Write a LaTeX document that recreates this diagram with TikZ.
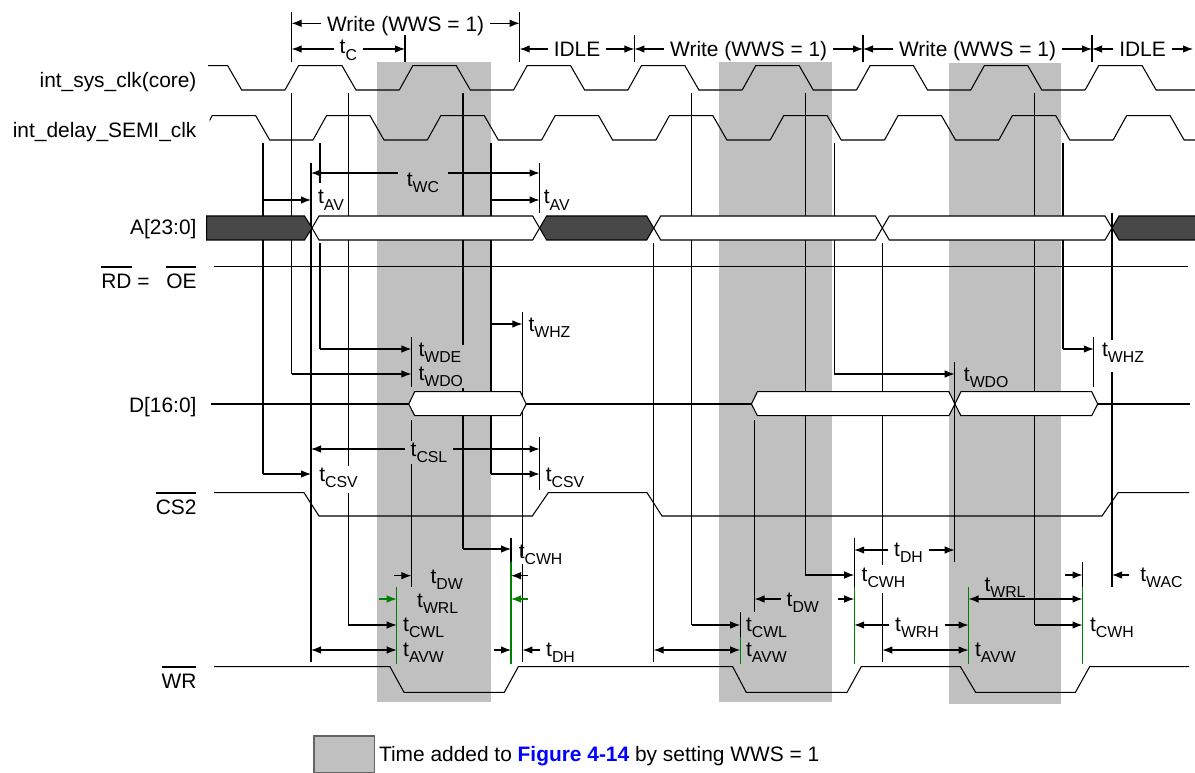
\documentclass[tikz,border=0pt]{standalone}
\usepackage{fontspec}
\setmainfont{Liberation Sans}
\usetikzlibrary{arrows.meta}

\definecolor{waitgray}{RGB}{192,192,192}
\definecolor{busdark}{RGB}{72,72,72}
\definecolor{wrgreen}{RGB}{0,128,0}
\definecolor{boxedge}{RGB}{100,100,100}

% t with a lowered subscript
\newcommand{\tm}[1]{t\raisebox{-3.5pt}{\fontsize{9}{9}\selectfont #1}}
% bar over an active low name
\newcommand{\ovl}[1]{\setbox0=\hbox{#1}\rlap{\rule[\dimexpr\ht0+3pt\relax]{\wd0}{1.1pt}}\box0\relax}
% one valid phase of the address bus and the data bus
\newcommand{\abus}[3]{\draw[fill=#3] (#1,228) -- ({#1+7},216) -- ({#2-7},216) -- (#2,228) -- ({#2-7},240) -- ({#1+7},240) -- cycle;}
\newcommand{\dbus}[2]{\draw[fill=white] (#1,404) -- ({#1+6},391.7) -- ({#2-6},391.7) -- (#2,404) -- ({#2-6},415.7) -- ({#1+6},415.7) -- cycle;}

\tikzset{
    dim/.style={-{Latex[length=2mm,width=1.5mm]}},
    dimboth/.style={{Latex[length=2mm,width=1.5mm]}-{Latex[length=2mm,width=1.5mm]}},
    lbl/.style={anchor=base west, inner sep=0pt},
    glbl/.style={anchor=base, inner xsep=3pt, inner ysep=0pt},
    signame/.style={anchor=base east, inner sep=0pt},
    grn/.style={draw=wrgreen}
}

\begin{document}
\begin{tikzpicture}[x=0.02cm, y=-0.02cm, line width=0.6pt, font=\fontsize{11.9}{14}\selectfont]

            % the frame
            \useasboundingbox (0,0) rectangle (1195,773);

            % the added wait time
            \fill[waitgray] (377,62.3) rectangle (491,702);
            \fill[waitgray] (719,62.3) rectangle (832,702);
            \fill[waitgray] (949,63) rectangle (1061,704);

            % signal names
            \node[signame] (nsys) at (197,88) {int\_sys\_clk(core)};
            \node[signame] (ndly) at (197,138) {int\_delay\_SEMI\_clk};
            \node[signame] (naddr) at (197,235) {A[23:0]};
            \node[signame] (nrd) at (197,288) {\ovl{RD} =\hspace{0.8em}\ovl{OE}};
            \node[signame] (ndata) at (197,412) {D[16:0]};
            \node[signame] (ncs) at (197,514) {\ovl{CS2}};
            \node[signame] (nwr) at (197,688) {\ovl{WR}};

            % the clocks
            \begin{scope}
                \clip (208,0) rectangle (1195,100);
                \foreach \k in {-1,...,7} {
                    \draw ({285+114.3*\k},90) -- ++(13.5,-24.3) -- ++(43.5,0) -- ++(14,24.3) -- ++(43.3,0);
                }
            \end{scope}
            \begin{scope}
                \clip (209.5,100) rectangle (1195,150);
                \foreach \k in {-1,...,7} {
                    \draw ({313+114.3*\k},140) -- ++(13.5,-24.3) -- ++(43.5,0) -- ++(14,24.3) -- ++(43.3,0);
                }
            \end{scope}

            % cycles on top
            \foreach \x/\t in {291.6/12, 405/35, 519.7/12, 634.4/35, 863/35, 1092/35} {
                \draw (\x,\t) -- (\x,62);
            }
            \node[glbl] (cyc1) at (405.6,31.3) {Write (WWS = 1)};
            \draw[dim] (cyc1.west |- 0,23.3) -- (291.6,23.3);
            \draw[dim] (cyc1.east |- 0,23.3) -- (519.7,23.3);
            \node[glbl] (tc) at (348.3,54) {\tm{C}};
            \draw[dim] (tc.west |- 0,49) -- (291.6,49);
            \draw[dim] (tc.east |- 0,49) -- (405,49);
            \node[glbl] (idle1) at (577,56.5) {IDLE};
            \draw[dim] (idle1.west |- 0,49) -- (519.7,49);
            \draw[dim] (idle1.east |- 0,49) -- (634.4,49);
            \node[glbl] (cyc2) at (748.7,56.5) {Write (WWS = 1)};
            \draw[dim] (cyc2.west |- 0,49) -- (634.4,49);
            \draw[dim] (cyc2.east |- 0,49) -- (863,49);
            \node[glbl] (cyc3) at (977.5,56.5) {Write (WWS = 1)};
            \draw[dim] (cyc3.west |- 0,49) -- (863,49);
            \draw[dim] (cyc3.east |- 0,49) -- (1092,49);
            \node[glbl] (idle2) at (1142.5,56.5) {IDLE};
            \draw[dim] (idle2.west |- 0,49) -- (1092,49);
            \draw[dim] (idle2.east |- 0,49) -- (1193,49);

            % first write: timing lines
            \draw (263,143) -- (263,474);
            \draw[dim] (263,200) -- (311,200);
            \draw[dim] (263,474) -- (311,474);
            \draw (291.6,93) -- (291.6,374);
            \draw[dim] (291.6,374) -- (411.4,374);
            \draw (311,163) -- (311,662);
            \draw (320,143) -- (320,183);
            \draw (320,243) -- (320,349);
            \draw[dim] (320,349) -- (411.4,349);
            \draw (348.4,93) -- (348.4,466);
            \draw (348.4,493) -- (348.4,625);
            \draw[dim] (348.4,625) -- (396.7,625);
            \draw (411.4,337) -- (411.4,387);
            \draw (411.4,420) -- (411.4,441);
            \draw (411.4,464) -- (411.4,587);
            \draw (463,93) -- (463,345);
            \draw (463,388) -- (463,549);
            \draw[dim] (463,549) -- (511,549);
            \draw (491,143) -- (491,474);
            \draw[dim] (491,200) -- (539.6,200);
            \draw[dim] (491,324) -- (522.4,324);
            \draw[dim] (491,474) -- (539.6,474);
            \draw (511,538) -- (511,562);
            \draw[grn] (511,562) -- (511,664);
            \draw[grn] (396.7,587) -- (396.7,664);
            \draw (522.4,312) -- (522.4,556);
            \draw (522.4,564) -- (522.4,662);
            \draw (539.6,163) -- (539.6,213);
            \draw (539.6,437) -- (539.6,490);

            % first write: labels
            \node[glbl, inner xsep=5pt] (twc) at (423,186.7) {\tm{WC}};
            \draw[dim] (twc.west |- 0,173) -- (311,173);
            \draw[dim] (twc.east |- 0,173) -- (539.6,173);
            \node[lbl] (tav1) at (317.6,204) {\tm{AV}};
            \node[lbl] (tav2) at (543.4,204) {\tm{AV}};
            \node[lbl] (twhz1) at (528,331.7) {\tm{WHZ}};
            \node[lbl] (twde) at (418,356) {\tm{WDE}};
            \node[lbl] (twdo1) at (418,380) {\tm{WDO}};
            \node[glbl] (tcsl) at (429,456.7) {\tm{CSL}};
            \draw[dim] (tcsl.west |- 0,449) -- (311,449);
            \draw[dim] (tcsl.east |- 0,449) -- (539.6,449);
            \node[lbl] (tcsv1) at (318.8,481.7) {\tm{CSV}};
            \node[lbl] (tcsv2) at (545.3,481.7) {\tm{CSV}};
            \node[lbl] (tcwh1) at (518.3,558) {\tm{CWH}};
            \draw[dim] (394,575.7) -- (411.4,575.7);
            \draw[dim] (528,575.7) -- (511,575.7);
            \node[lbl] (tdw1) at (430,583) {\tm{DW}};
            \draw[dim, wrgreen] (379,599) -- (396.7,599);
            \draw[dim, wrgreen] (528,599) -- (511,599);
            \node[lbl] (twrl1) at (416.7,607) {\tm{WRL}};
            \node[lbl] (tcwl1) at (402.7,631.7) {\tm{CWL}};
            \draw[dimboth] (311,650) -- (396.7,650);
            \node[lbl] (tavw1) at (402.7,656.7) {\tm{AVW}};
            \draw[dim] (494,650) -- (511,650);
            \draw[dim] (540,650) -- (522.4,650);
            \node[lbl] (tdh1) at (545.7,656.7) {\tm{DH}};

            % second write: timing lines
            \draw (653.7,243) -- (653.7,662);
            \draw[dimboth] (653.7,650) -- (740.2,650);
            \draw (691.7,93) -- (691.7,625);
            \draw[dim] (691.7,625) -- (740.2,625);
            \draw (740.2,612) -- (740.2,637);
            \draw[grn] (740.2,637) -- (740.2,664);
            \draw (754.5,420) -- (754.5,612);
            \draw (805.4,93) -- (805.4,575);
            \draw[dim] (805.4,575) -- (854.2,575);
            \draw (834.4,143) -- (834.4,374);
            \draw[dim] (834.4,374) -- (954.7,374);
            \draw (854.2,537.7) -- (854.2,587);
            \draw[grn] (854.2,587) -- (854.2,664);
            \draw (882.3,243) -- (882.3,565);
            \draw (882.3,593) -- (882.3,662);
            \draw (954.7,362) -- (954.7,562);
            \draw[grn] (968.5,587) -- (968.5,664);

            % second write: labels
            \node[lbl] (twdo2) at (963.4,381.7) {\tm{WDO}};
            \node[lbl] (tcwl2) at (745.5,631.7) {\tm{CWL}};
            \node[lbl] (tavw2) at (745.5,656.7) {\tm{AVW}};
            \node[lbl] (tcwh2) at (861.2,581.7) {\tm{CWH}};
            \node[lbl] (tdw2) at (786.2,606.7) {\tm{DW}};
            \draw[dim] ([xshift=-3pt]tdw2.west |- 0,599) -- (754.5,599);
            \draw[dim] (838,599) -- (854.2,599);
            \node[glbl] (tdh2) at (908.5,556.7) {\tm{DH}};
            \draw[dim] (tdh2.west |- 0,550) -- (854.2,550);
            \draw[dim] (tdh2.east |- 0,550) -- (954.7,550);
            \node[glbl] (twrh) at (917,631.7) {\tm{WRH}};
            \draw[dim] (twrh.west |- 0,625) -- (854.2,625);
            \draw[dim] (twrh.east |- 0,625) -- (968.5,625);
            \draw[dimboth] (882.3,650) -- (968.5,650);
            \node[lbl] (tavw3) at (974.5,656.7) {\tm{AVW}};

            % third write: timing lines
            \draw (1034.8,93) -- (1034.8,625);
            \draw[dim] (1034.8,625) -- (1082.5,625);
            \draw (1063,143) -- (1063,349);
            \draw[dim] (1063,349) -- (1093.8,349);
            \draw (1093.8,337) -- (1093.8,387);
            \draw (1082.5,562) -- (1082.5,587);
            \draw[grn] (1082.5,587) -- (1082.5,664);
            \draw (1112,213) -- (1112,340);
            \draw (1112,372) -- (1112,587);
            \draw[dimboth] (968.5,599) -- (1082.5,599);
            \draw[dim] (1065,575) -- (1082.5,575);
            \draw[dim] (1128.5,575) -- (1112,575);

            % third write: labels
            \node[lbl] (twhz2) at (1101.6,356.7) {\tm{WHZ}};
            \node[lbl] (twrl2) at (984,591.7) {\tm{WRL}};
            \node[lbl] (tcwh3) at (1089.6,631.7) {\tm{CWH}};
            \node[lbl] (twac) at (1139.8,581.7) {\tm{WAC}};

            % address bus
            \draw[fill=busdark] (206.7,216) -- (304.5,216) -- (312,228) -- (304.5,240) -- (206.7,240) -- cycle;
            \abus{312}{539.6}{white}
            \abus{539.6}{653.7}{busdark}
            \abus{653.7}{882.3}{white}
            \abus{882.3}{1112}{white}
            \draw[fill=busdark] (1195,216) -- (1119,216) -- (1112,228) -- (1119,240) -- (1195,240);

            % read strobe
            \draw (214,266.7) -- (1188,266.7);

            % data bus
            \draw (210.5,404) -- (408.7,404);
            \draw (526.2,404) -- (751.4,404);
            \draw (1097.7,404) -- (1190,404);
            \dbus{408.7}{526.2}
            \dbus{751.4}{954.9}
            \dbus{954.9}{1097.7}

            % chip select
            \draw (214,492.7) -- (304,492.7) -- (319,516) -- (532.3,516) -- (548.3,492.7) -- (647,492.7) -- (662,516) -- (1102,516) -- (1118,492.7) -- (1189,492.7);

            % write strobe
            \draw (214,666.7) -- (390,666.7) -- (404,692.3) -- (504.3,692.3) -- (518.3,666.7) -- (732.7,666.7) -- (746.2,692.3) -- (847,692.3) -- (861.2,666.7) -- (960.4,666.7) -- (975.6,692.3) -- (1075.4,692.3) -- (1089.6,666.7) -- (1189,666.7);

            % legend
            \draw[draw=boxedge, fill=waitgray] (314,736) rectangle (374.6,772.5);
            \node[lbl] (legend) at (378.5,761) {Time added to \textbf{\color{blue}Figure 4-14} by setting WWS = 1};
        \end{tikzpicture}
\end{document}
